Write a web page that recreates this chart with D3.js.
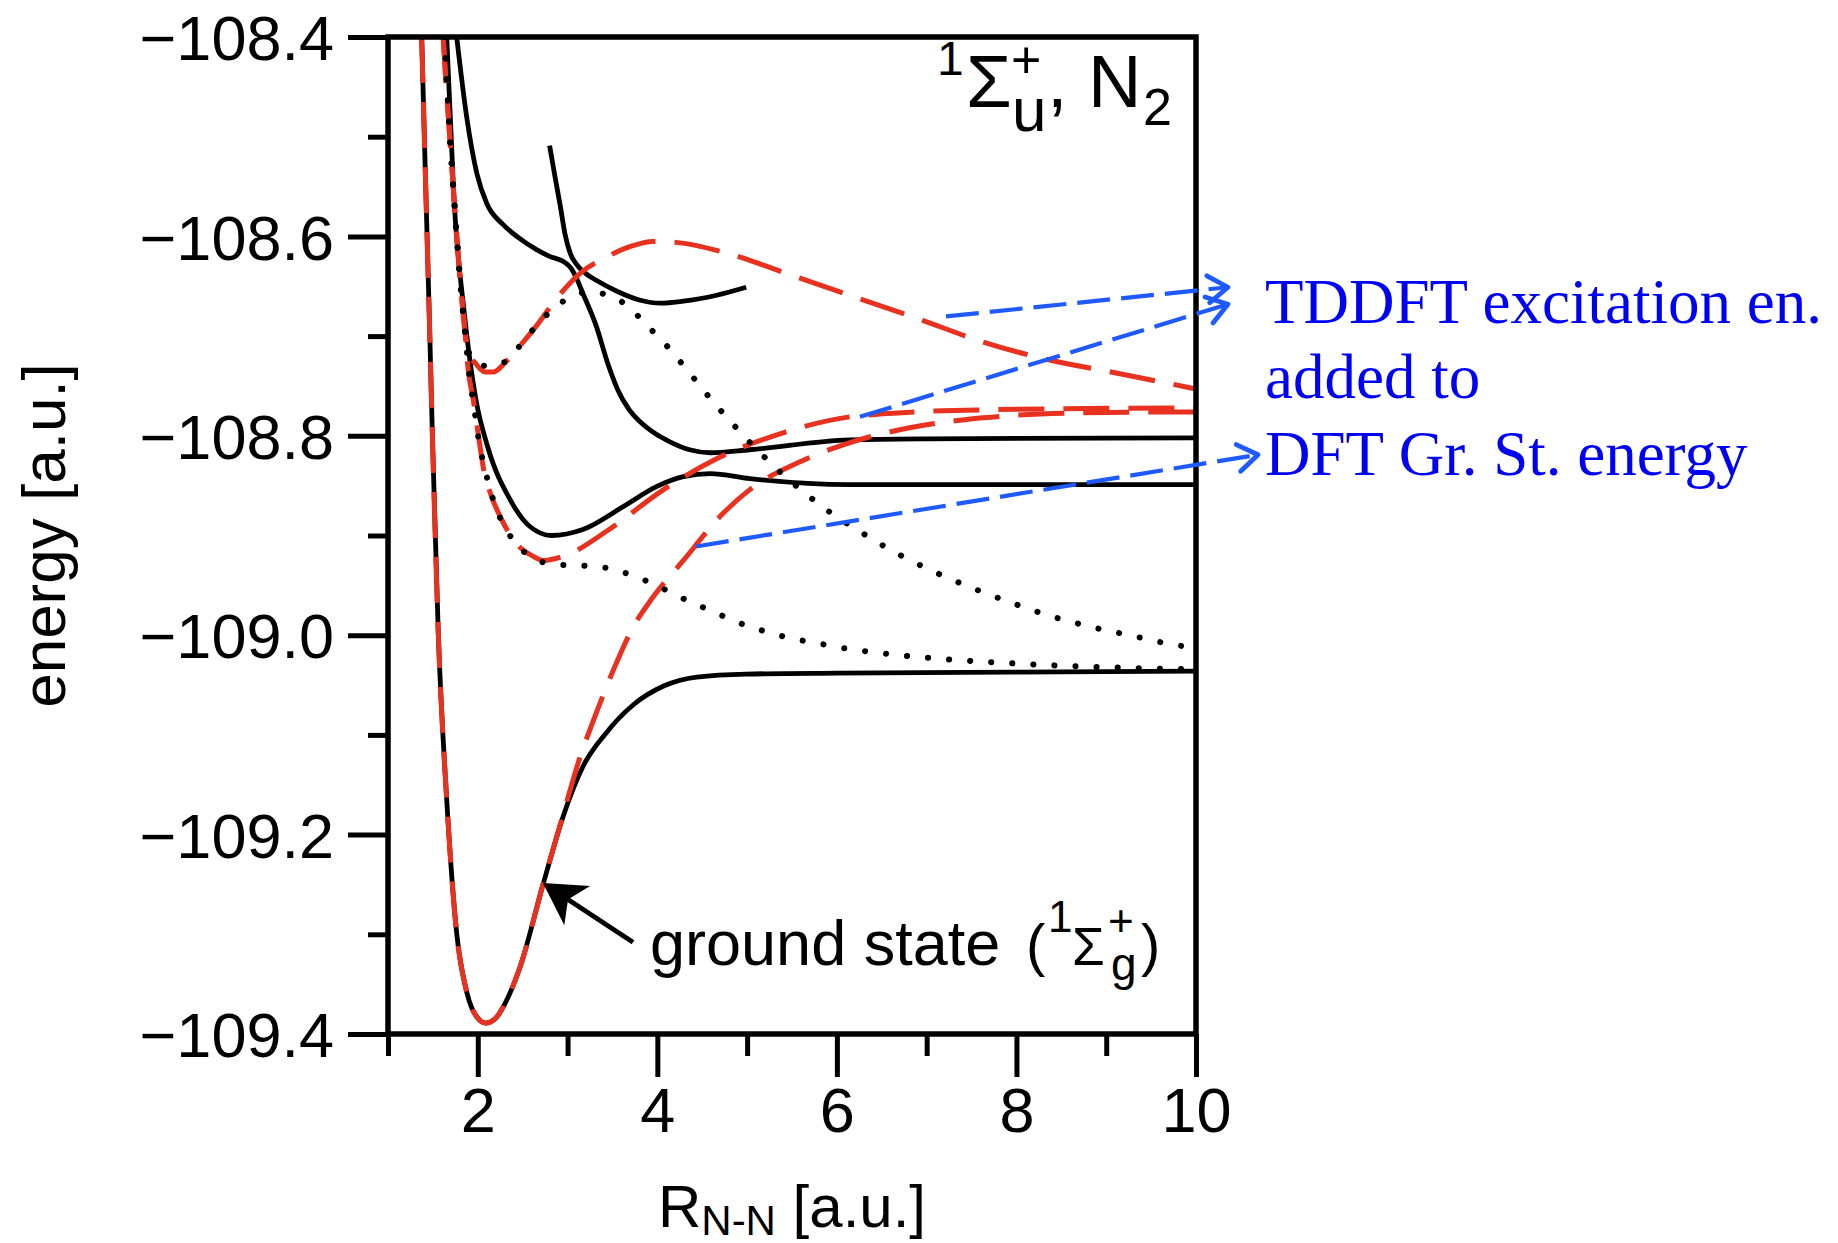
<!DOCTYPE html>
<html><head><meta charset="utf-8">
<script src="https://cdn.jsdelivr.net/npm/d3@7"></script>
<style>body{margin:0;background:#fff}</style>
</head><body><svg id="c" width="1838" height="1243"></svg>
<script>
// ---------- data ----------
const xMajorTicks = [2, 4, 6, 8, 10];
const xMinorTicks = [1, 3, 5, 7, 9];
const yMajorTicks = [-108.4, -108.6, -108.8, -109.0, -109.2, -109.4];
const yMinorTicks = [-108.5, -108.7, -108.9, -109.1, -109.3];

// DFT ground state (black solid)
const groundDFT = [[1.375,-108.40],[1.42,-108.55],[1.46,-108.68],[1.498,-108.811],[1.56,-108.998],[1.654,-109.165],[1.765,-109.299],[1.88,-109.359],[1.99,-109.383],[2.09,-109.389],[2.21,-109.383],[2.30,-109.370],[2.47,-109.333],[2.73,-109.249],[2.95,-109.182],[3.17,-109.132],[3.43,-109.098],[3.73,-109.070],[4.07,-109.051],[4.44,-109.042],[4.99,-109.039],[6,-109.038],[8,-109.037],[10,-109.036]];
// ground state, red dashed
const groundRed = [[1.375,-108.40],[1.42,-108.55],[1.46,-108.68],[1.498,-108.811],[1.56,-108.998],[1.654,-109.165],[1.765,-109.299],[1.88,-109.359],[1.99,-109.383],[2.09,-109.389],[2.21,-109.383],[2.30,-109.370],[2.47,-109.333],[2.73,-109.249],[2.95,-109.180],[3.14,-109.122],[3.29,-109.085],[3.51,-109.035],[3.73,-108.992],[3.95,-108.962],[4.29,-108.925],[4.73,-108.878],[5.03,-108.854],[5.59,-108.826],[6.07,-108.809],[6.81,-108.792],[7.63,-108.782],[8.74,-108.777],[10,-108.776]];
// black solid excited states
const solid2 = [[1.654,-108.40],[1.735,-108.563],[1.85,-108.677],[1.98,-108.764],[2.11,-108.811],[2.36,-108.864],[2.58,-108.891],[2.82,-108.900],[3.17,-108.894],[3.62,-108.871],[3.99,-108.851],[4.29,-108.841],[4.59,-108.838],[5.03,-108.843],[6.14,-108.849],[8,-108.849],[10,-108.849]];
const solid3 = [[1.765,-108.40],[1.876,-108.48],[1.99,-108.537],[2.10,-108.567],[2.28,-108.588],[2.45,-108.601],[2.65,-108.613],[2.80,-108.620],[2.95,-108.625],[3.04,-108.632],[3.10,-108.642],[3.17,-108.657],[3.32,-108.690],[3.45,-108.728],[3.56,-108.754],[3.68,-108.773],[3.82,-108.787],[3.98,-108.798],[4.14,-108.806],[4.36,-108.814],[4.59,-108.817],[5.03,-108.814],[6.14,-108.804],[7,-108.803],[10,-108.802]];
const solid4 = [[2.80,-108.509],[2.86,-108.54],[2.92,-108.570],[2.97,-108.597],[3.03,-108.617],[3.10,-108.628],[3.20,-108.637],[3.32,-108.644],[3.55,-108.655],[3.81,-108.664],[4.03,-108.667],[4.29,-108.665],[4.66,-108.659],[4.99,-108.651]];
// red dashed excited states
const red1 = [[1.615,-108.40],[1.635,-108.43],[1.69,-108.503],[1.75,-108.58],[1.80,-108.64],[1.86,-108.697],[1.89,-108.731],[1.95,-108.764],[2.00,-108.795],[2.06,-108.831],[2.15,-108.860],[2.25,-108.881],[2.43,-108.908],[2.60,-108.920],[2.73,-108.925],[3.03,-108.918],[3.43,-108.896],[4.07,-108.854],[4.66,-108.823],[5.40,-108.797],[6.14,-108.781],[6.51,-108.778],[7.63,-108.774],[10,-108.772]];
const red2 = [[1.615,-108.40],[1.635,-108.43],[1.69,-108.503],[1.75,-108.58],[1.80,-108.64],[1.86,-108.697],[1.895,-108.714],[1.99,-108.729],[2.08,-108.736],[2.17,-108.736],[2.30,-108.727],[2.40,-108.717],[2.66,-108.689],[2.88,-108.662],[3.14,-108.637],[3.45,-108.620],[3.70,-108.610],[3.95,-108.605],[4.21,-108.606],[4.70,-108.615],[5.03,-108.624],[5.40,-108.636],[6.14,-108.659],[6.89,-108.682],[7.63,-108.706],[8.37,-108.724],[9.11,-108.737],[9.89,-108.751],[10,-108.753]];
// black dotted
const dotted1 = [[1.63,-108.40],[1.69,-108.50],[1.75,-108.58],[1.80,-108.64],[1.86,-108.697],[1.90,-108.716],[1.99,-108.727],[2.10,-108.730],[2.20,-108.729],[2.36,-108.722],[2.49,-108.707],[2.64,-108.691],[2.80,-108.676],[3.01,-108.662],[3.23,-108.656],[3.46,-108.659],[3.67,-108.670],[3.84,-108.685],[4.01,-108.701],[4.17,-108.716],[4.32,-108.733],[4.47,-108.749],[4.62,-108.766],[4.78,-108.782],[4.94,-108.798],[5.27,-108.828],[5.45,-108.843],[5.64,-108.857],[5.82,-108.870],[6.01,-108.882],[6.22,-108.894],[6.63,-108.916],[7.05,-108.935],[7.49,-108.952],[7.93,-108.967],[8.39,-108.981],[8.85,-108.992],[9.31,-109.001],[9.78,-109.010],[9.95,-109.012]];
const dotted2 = [[1.63,-108.40],[1.69,-108.50],[1.75,-108.58],[1.80,-108.64],[1.86,-108.697],[1.90,-108.735],[1.95,-108.766],[2.02,-108.809],[2.07,-108.830],[2.13,-108.851],[2.20,-108.872],[2.30,-108.891],[2.43,-108.909],[2.61,-108.922],[2.84,-108.929],[3.08,-108.930],[3.32,-108.931],[3.55,-108.935],[3.78,-108.942],[3.99,-108.950],[4.21,-108.960],[4.43,-108.969],[4.64,-108.977],[4.86,-108.986],[5.09,-108.993],[5.31,-108.999],[5.54,-109.004],[5.78,-109.008],[6.01,-109.012],[6.49,-109.018],[7.20,-109.024],[7.91,-109.028],[8.62,-109.031],[9.34,-109.033],[9.85,-109.034]];

// annotation arrows (data units): [x0,y0,x1,y1]
const blueArrows = [[7.215,-108.6803,10.356,-108.651],[6.257,-108.781,10.356,-108.668],[4.431,-108.911,10.691,-108.819]];
const groundArrow = [3.729,-109.308,2.726,-109.2486];
const blueLines = ["TDDFT excitation en.", "added to", "DFT Gr. St. energy"];

// ---------- layout ----------
const svg = d3.select("#c");
const L = 388, R = 1196, T = 37, B = 1034;
const x = d3.scaleLinear().domain([1, 10]).range([L, R]);
const y = d3.scaleLinear().domain([-109.4, -108.4]).range([B, T]);
const SANS = "'Liberation Sans', Arial, Helvetica, sans-serif";
const SERIF = "'Liberation Serif', 'Times New Roman', serif";
const RED = "#e8311f", BLUE = "#1e5aff", TXTBLUE = "#0000f5";

svg.append("defs").append("clipPath").attr("id","clip")
  .append("rect").attr("x",L).attr("y",T).attr("width",R-L).attr("height",B-T);

// axes
const fmt = d3.format(".1f");
const yAx = svg.append("g").attr("transform",`translate(${L},0)`)
  .call(d3.axisLeft(y).tickValues(yMajorTicks).tickSize(40).tickSizeOuter(0).tickPadding(14).tickFormat(fmt));
const yAxMin = svg.append("g").attr("transform",`translate(${L},0)`)
  .call(d3.axisLeft(y).tickValues(yMinorTicks).tickSize(20).tickSizeOuter(0).tickFormat(""));
const xAx = svg.append("g").attr("transform",`translate(0,${B})`)
  .call(d3.axisBottom(x).tickValues(xMajorTicks).tickSize(43).tickSizeOuter(0).tickPadding(10).tickFormat(d3.format("d")));
const xAxMin = svg.append("g").attr("transform",`translate(0,${B})`)
  .call(d3.axisBottom(x).tickValues(xMinorTicks).tickSize(22).tickSizeOuter(0).tickFormat(""));
[yAx,yAxMin,xAx,xAxMin].forEach(g=>{
  g.select(".domain").remove();
  g.selectAll(".tick line").attr("stroke","#000").attr("stroke-width",5);
  g.selectAll(".tick text").attr("font-family",SANS).attr("font-size",63).attr("fill","#000");
});
yAx.selectAll(".tick text").attr("dy","0.36em");

// curves
const line = d3.line().x(d=>x(d[0])).y(d=>y(d[1])).curve(d3.curveMonotoneX);
const plot = svg.append("g").attr("clip-path","url(#clip)");
[groundDFT, solid2, solid3, solid4].forEach(s=>{
  plot.append("path").attr("d",line(s)).attr("fill","none").attr("stroke","#000").attr("stroke-width",4.8).attr("stroke-linejoin","round");
});
[groundRed, red1, red2].forEach(s=>{
  plot.append("path").attr("d",line(s)).attr("fill","none").attr("stroke",RED).attr("stroke-width",5).attr("stroke-dasharray","46 19");
});
[dotted1, dotted2].forEach(s=>{
  plot.append("path").attr("d",line(s)).attr("fill","none").attr("stroke","#000").attr("stroke-width",6).attr("stroke-linecap","round").attr("stroke-dasharray","0.1 21");
});

// frame
svg.append("rect").attr("x",L).attr("y",T).attr("width",R-L).attr("height",B-T)
  .attr("fill","none").attr("stroke","#000").attr("stroke-width",5.5);

// blue arrows
blueArrows.forEach(a=>{
  const x0=x(a[0]),y0=y(a[1]),x1=x(a[2]),y1=y(a[3]);
  svg.append("line").attr("x1",x0).attr("y1",y0).attr("x2",x1).attr("y2",y1)
    .attr("stroke",BLUE).attr("stroke-width",4.2).attr("stroke-dasharray","33 11");
  const ang=Math.atan2(y1-y0,x1-x0), len=24, half=0.6;
  const p1=[x1-len*Math.cos(ang-half), y1-len*Math.sin(ang-half)];
  const p2=[x1-len*Math.cos(ang+half), y1-len*Math.sin(ang+half)];
  svg.append("path").attr("d",`M${p1}L${x1},${y1}L${p2}`).attr("fill","none")
    .attr("stroke",BLUE).attr("stroke-width",4.8).attr("stroke-linecap","round").attr("stroke-linejoin","round");
});

// black ground-state arrow
{
  const x0=x(groundArrow[0]),y0=y(groundArrow[1]),x1=x(groundArrow[2]),y1=y(groundArrow[3]);
  const dx=x1-x0, dy=y1-y0, l=Math.hypot(dx,dy), ux=dx/l, uy=dy/l, nx=-uy, ny=ux;
  svg.append("line").attr("x1",x0).attr("y1",y0).attr("x2",x1-ux*30).attr("y2",y1-uy*30)
    .attr("stroke","#000").attr("stroke-width",4.8);
  const b=41, w=23.5, notch=30;
  const pts=[[x1,y1],[x1-ux*b+nx*w,y1-uy*b+ny*w],[x1-ux*notch,y1-uy*notch],[x1-ux*b-nx*w,y1-uy*b-ny*w]];
  svg.append("path").attr("d","M"+pts.map(p=>p.join(",")).join("L")+"Z").attr("fill","#000");
}

// text helper
function txt(s, px, py, size, opts={}) {
  return svg.append("text").attr("x",px).attr("y",py).attr("font-size",size)
    .attr("font-family",opts.family||SANS).attr("fill",opts.fill||"#000")
    .attr("text-anchor",opts.anchor||"start").text(s);
}
// title
txt("1", 937, 75, 48);
txt("Σ", 966, 107, 74);
txt("+", 1011, 78, 52);
txt("u", 1012, 131, 62);
txt(",", 1047, 107, 74);
txt("N", 1088, 107, 74);
txt("2", 1143, 125, 52);

// ground state label
txt("ground state", 650, 965, 63);
txt("(", 1026, 965, 58);
txt("1", 1048, 932, 44);
txt("Σ", 1072, 965, 53);
txt("+", 1108, 936, 44);
txt("g", 1111, 980, 46);
txt(")", 1141, 965, 58);

// blue annotation
blueLines.forEach((s,i)=>{
  txt(s, 1265, [323,398,475][i], 63, {family:SERIF, fill:TXTBLUE});
});

// axis labels
svg.append("text").attr("transform",`translate(65,${(T+B)/2}) rotate(-90)`)
  .attr("text-anchor","middle").attr("font-family",SANS).attr("font-size",62).text("energy [a.u.]");
const xl = svg.append("text").attr("x",(L+R)/2).attr("y",1227).attr("text-anchor","middle")
  .attr("font-family",SANS).attr("font-size",60);
xl.append("tspan").text("R");
xl.append("tspan").attr("font-size",42).attr("dy",8).text("N-N");
xl.append("tspan").attr("dy",-8).text(" [a.u.]");
</script></body></html>
